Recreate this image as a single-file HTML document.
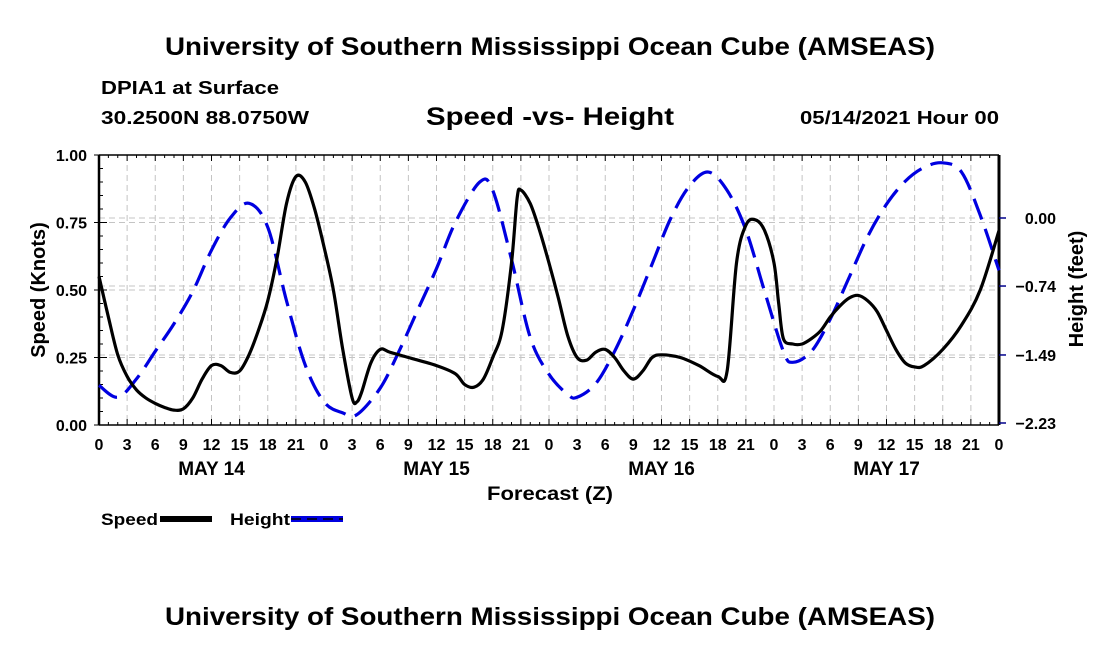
<!DOCTYPE html>
<html><head><meta charset="utf-8"><style>
body{margin:0;background:#fff;width:1100px;height:650px;overflow:hidden;font-family:"Liberation Sans",sans-serif}
svg{display:block}
text{font-family:"Liberation Sans",sans-serif;font-weight:bold;fill:#000}
</style></head><body>
<svg id="chart" width="1100" height="650">
<text x="165" y="55" font-size="25" textLength="770" lengthAdjust="spacingAndGlyphs">University of Southern Mississippi Ocean Cube (AMSEAS)</text>
<text x="101" y="94" font-size="18" textLength="178" lengthAdjust="spacingAndGlyphs">DPIA1 at Surface</text>
<text x="101" y="124" font-size="18" textLength="208" lengthAdjust="spacingAndGlyphs">30.2500N  88.0750W</text>
<text x="426" y="125" font-size="25" textLength="248" lengthAdjust="spacingAndGlyphs">Speed -vs- Height</text>
<text x="800" y="124" font-size="18" textLength="199" lengthAdjust="spacingAndGlyphs">05/14/2021 Hour 00</text>
<g id="grid"></g><g id="axes"></g><g id="series"></g>
<text x="487" y="500" font-size="19" textLength="126" lengthAdjust="spacingAndGlyphs">Forecast (Z)</text>
<text transform="translate(45,290) rotate(-90)" text-anchor="middle" font-size="20">Speed (Knots)</text>
<text transform="translate(1083,289) rotate(-90)" text-anchor="middle" font-size="20">Height (feet)</text>
<g><text x="101" y="525" font-size="17" textLength="57" lengthAdjust="spacingAndGlyphs">Speed</text><rect x="160" y="516" width="52" height="6" fill="#000"/></g>
<g><text x="230" y="525" font-size="17" textLength="60" lengthAdjust="spacingAndGlyphs">Height</text><rect x="291" y="516" width="52" height="6" fill="#0000e0"/><line x1="291" y1="519" x2="343" y2="519" stroke="#000" stroke-width="1.5" stroke-dasharray="10 6"/></g>
<text x="165" y="625" font-size="25" textLength="770" lengthAdjust="spacingAndGlyphs">University of Southern Mississippi Ocean Cube (AMSEAS)</text>
</svg>
<script>
const speedHours=[0,1,2,3,4,5,6,7,8,9,10,11,12,13,14,15,16,17,18,19,20,21,22,23,24,25,26,27,27.5,28,29,30,31,33,36,38,39,40,41,42,43,44,44.6,45,46,47,48,49,50,51,52,53,54,55,56,57,58,59,60,62,64,66,67,68,69,70,71,72,72.5,73,74,75,76,77,78,79,80,81,82,83,84,85,86,87,88,90,92,94,96];
const speedValues=[.55,.4,.26,.18,.13,.1,.08,.065,.055,.06,.1,.17,.22,.22,.195,.2,.26,.35,.46,.62,.82,.92,.9,.8,.66,.5,.28,.1,.085,.12,.23,.28,.27,.25,.22,.19,.15,.14,.17,.25,.35,.6,.84,.87,.82,.72,.6,.47,.33,.25,.24,.27,.28,.25,.2,.17,.2,.25,.26,.25,.22,.18,.2,.6,.74,.76,.72,.6,.45,.32,.3,.3,.32,.35,.4,.44,.47,.48,.46,.42,.35,.28,.23,.215,.22,.28,.37,.5,.72];
const heightHours=[0,2,4,6,8,10,12,14,16,18,20,22,24,26,27.5,30,32,34,36,38,40.6,42,44,46,48,50,51,53,55,57,59,61,63,65,67,69,71,73,74,76,78,80,82,84,86,88,90,92,94,96];
const heightValues=[-1.82,-1.95,-1.75,-1.45,-1.15,-0.8,-0.35,0.0,0.16,-0.1,-0.9,-1.6,-2.0,-2.12,-2.14,-1.85,-1.45,-1.0,-0.55,-0.05,0.39,0.3,-0.45,-1.3,-1.7,-1.92,-1.95,-1.8,-1.45,-1.0,-0.5,0.0,0.35,0.5,0.3,-0.13,-0.8,-1.45,-1.57,-1.45,-1.1,-0.65,-0.2,0.15,0.4,0.55,0.6,0.5,0.03,-0.57];
const xTickLabels=["0","3","6","9","12","15","18","21","0","3","6","9","12","15","18","21","0","3","6","9","12","15","18","21","0","3","6","9","12","15","18","21","0"];
const dayLabels=["MAY 14","MAY 15","MAY 16","MAY 17"];
const leftTicks=[0,0.25,0.5,0.75,1.0];
const rightTicks=[0.00,-0.74,-1.49,-2.23];

const X0=99,X1=999,YT=155,YB=425;
const xs=h=>X0+h*(X1-X0)/96;
const ys=v=>YB-v*(YB-YT);
const yh=f=>423-(f+2.23)*(423-218)/2.23;
const NS="http://www.w3.org/2000/svg";
function mk(t,a,p){const e=document.createElementNS(NS,t);for(const k in a)e.setAttribute(k,a[k]);p.appendChild(e);return e;}
const grid=document.getElementById('grid'),axes=document.getElementById('axes'),series=document.getElementById('series');
for(let i=1;i<32;i++){const x=xs(i*3);
 const g=mk('line',{x1:x,x2:x,y1:YT,y2:YB,stroke:'#c4c4c4','stroke-width':1,'stroke-dasharray':'6 4'},grid);
 
 }
leftTicks.slice(1,4).forEach(v=>{const l=mk('line',{x1:X0,x2:X1,y1:ys(v),y2:ys(v),stroke:'#c4c4c4','stroke-dasharray':'6 4'},grid);
 
 });
rightTicks.slice(0,3).forEach(v=>{const l=mk('line',{x1:X0,x2:X1,y1:yh(v),y2:yh(v),stroke:'#c4c4c4','stroke-dasharray':'6 4'},grid);
 
 });
mk('line',{x1:X0,x2:X1,y1:YT,y2:YT,stroke:'#000','stroke-width':1.5},axes);
mk('line',{x1:X0,x2:X1,y1:YB,y2:YB,stroke:'#000','stroke-width':1.5},axes);
mk('line',{x1:X0,x2:X0,y1:YT,y2:YB,stroke:'#000','stroke-width':2.5},axes);
mk('line',{x1:X1,x2:X1,y1:YT,y2:YB,stroke:'#000','stroke-width':3},axes);
for(let i=0;i<=96;i++){const x=xs(i);const len=i%3==0?6:3;
 mk('line',{x1:x,x2:x,y1:YB,y2:YB-len,stroke:'#000'},axes);
 mk('line',{x1:x,x2:x,y1:YT,y2:YT+len,stroke:'#000'},axes);}
xTickLabels.forEach((t,i)=>{const e=mk('text',{x:xs(i*3),y:450,'text-anchor':'middle','font-size':16},axes);e.textContent=t;
 
 });
dayLabels.forEach((t,i)=>{const e=mk('text',{x:xs(i*24+12),y:475,'text-anchor':'middle','font-size':19},axes);e.textContent=t;
 
 });
for(let v=0;v<=1.0001;v+=0.05){mk('line',{x1:X0,x2:X0+(Math.round(v*100)%25==0?8:4),y1:ys(v),y2:ys(v),stroke:'#000'},axes);}
leftTicks.forEach(v=>{mk('line',{x1:X0-5,x2:X0,y1:ys(v),y2:ys(v),stroke:'#000'},axes);
 const e=mk('text',{x:X0-12,y:ys(v)+6,'text-anchor':'end','font-size':16},axes);e.textContent=v.toFixed(2);
 
 });
rightTicks.forEach(v=>{mk('line',{x1:X1,x2:X1+7,y1:yh(v),y2:yh(v),stroke:'#00008b','stroke-width':1.5},axes);
 const e=mk('text',{x:1056,y:yh(v)+6,'text-anchor':'end','font-size':16},axes);e.textContent=v.toFixed(2).replace('-','\u2212');
 
 });
function smooth(pts){let d=`M${pts[0][0]},${pts[0][1]}`;
 for(let i=0;i<pts.length-1;i++){const p0=pts[i-1]||pts[i],p1=pts[i],p2=pts[i+1],p3=pts[i+2]||p2;
  d+=` C${p1[0]+(p2[0]-p0[0])/6},${p1[1]+(p2[1]-p0[1])/6} ${p2[0]-(p3[0]-p1[0])/6},${p2[1]-(p3[1]-p1[1])/6} ${p2[0]},${p2[1]}`;}
 return d;}
const sp=speedHours.map((h,i)=>[xs(h),ys(speedValues[i])]);
const hp=heightHours.map((h,i)=>[xs(h),yh(heightValues[i])]);
const hl=mk('path',{d:smooth(hp),fill:'none',stroke:'#0000e0','stroke-width':3.2,'stroke-dasharray':'22 10'},series);


const sl=mk('path',{d:smooth(sp),fill:'none',stroke:'#000','stroke-width':3.2,'stroke-linejoin':'round'},series);


</script>
</body></html>
